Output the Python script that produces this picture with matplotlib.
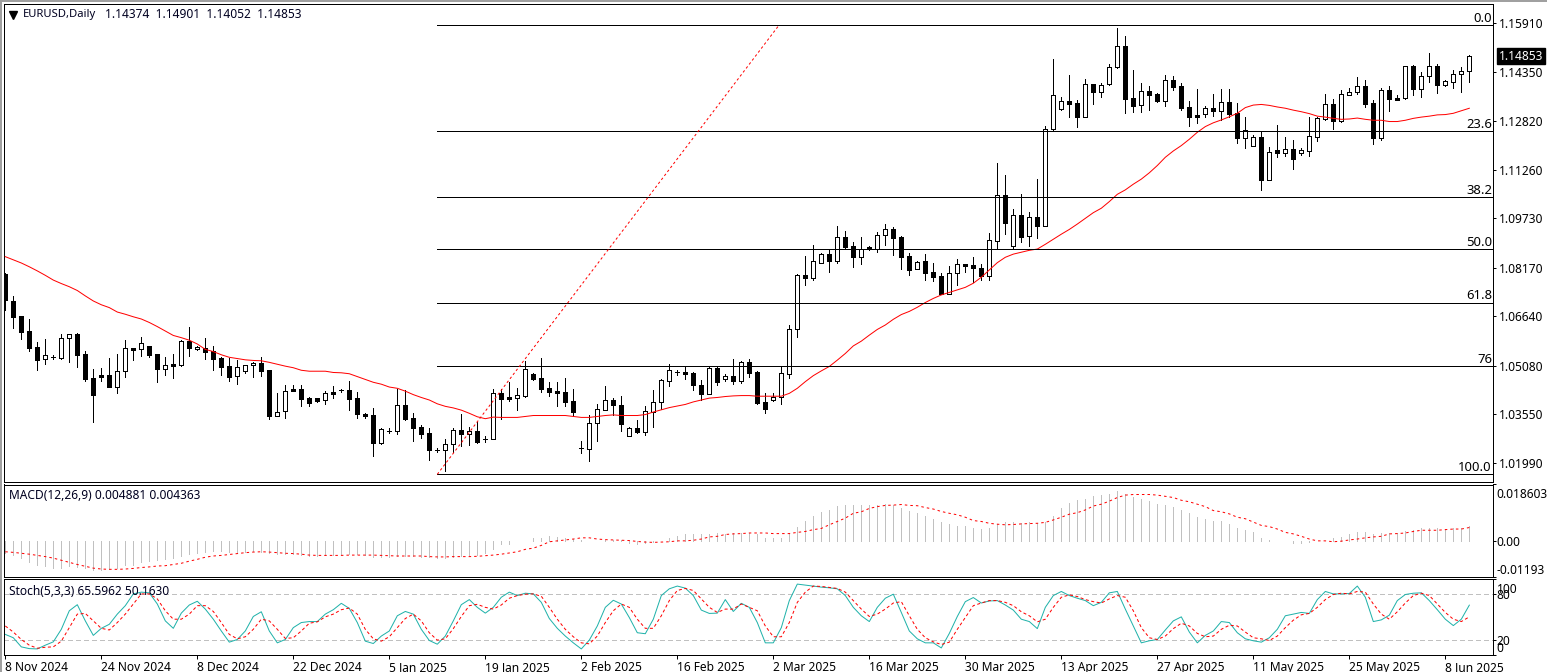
import matplotlib
matplotlib.use("Agg")
import matplotlib.pyplot as plt
from matplotlib.patches import Rectangle

plt.rcParams["font.family"] = ["Noto Sans", "DejaVu Sans"]
plt.rcParams["lines.scale_dashes"] = False

# daily candles
opens = [1.0797,1.0711,1.0664,1.0617,1.0565,1.0528,1.0534,1.0533,1.0594,1.0607,
    1.0544,1.0469,1.0477,1.0477,1.0441,1.0490,1.0562,1.0559,1.0569,1.0544,
    1.0498,1.0512,1.0511,1.0585,1.0559,1.0564,1.0555,1.0532,1.0505,1.0474,
    1.0490,1.0509,1.0516,1.0493,1.0350,1.0363,1.0433,1.0433,1.0404,1.0404,
    1.0398,1.0423,1.0430,1.0430,1.0404,1.0355,1.0351,1.0264,1.0302,1.0302,
    1.0383,1.0341,1.0313,1.0294,1.0240,1.0242,1.0261,1.0303,1.0293,1.0300,
    1.0277,1.0277,1.0420,1.0407,1.0406,1.0413,1.0481,1.0469,1.0436,1.0426,
    1.0424,1.0395,1.0246,1.0245,1.0325,1.0369,1.0399,1.0382,1.0286,1.0310,
    1.0299,1.0362,1.0392,1.0460,1.0487,1.0486,1.0484,1.0445,1.0419,1.0499,
    1.0466,1.0474,1.0460,1.0518,1.0486,1.0392,1.0400,1.0410,1.0482,1.0622,
    1.0793,1.0786,1.0833,1.0859,1.0839,1.0913,1.0885,1.0852,1.0881,1.0877,
    1.0919,1.0938,1.0913,1.0853,1.0814,1.0837,1.0803,1.0790,1.0735,1.0799,
    1.0828,1.0825,1.0817,1.0792,1.0903,1.1046,1.0887,1.0983,1.0916,1.0976,
    1.0950,1.1256,1.1320,1.1343,1.1337,1.1294,1.1397,1.1373,1.1398,1.1450,
    1.1517,1.1352,1.1330,1.1374,1.1366,1.1345,1.1409,1.1391,1.1324,1.1299,
    1.1304,1.1321,1.1313,1.1340,1.1305,1.1228,1.1203,1.1229,1.1095,1.1188,
    1.1181,1.1191,1.1181,1.1187,1.1231,1.1288,1.1333,1.1282,1.1364,1.1373,
    1.1390,1.1337,1.1228,1.1378,1.1352,1.1353,1.1453,1.1383,1.1422,1.1453,
    1.1396,1.1405,1.1428,1.14374]
highs = [1.0799,1.0728,1.0666,1.0654,1.0581,1.0591,1.0540,1.0608,1.0607,1.0610,
    1.0554,1.0497,1.0499,1.0532,1.0543,1.0589,1.0562,1.0597,1.0570,1.0545,
    1.0534,1.0543,1.0589,1.0630,1.0569,1.0594,1.0569,1.0536,1.0532,1.0525,
    1.0509,1.0520,1.0534,1.0493,1.0420,1.0445,1.0445,1.0445,1.0409,1.0404,
    1.0429,1.0442,1.0435,1.0458,1.0423,1.0358,1.0373,1.0310,1.0310,1.0435,
    1.0430,1.0357,1.0319,1.0310,1.0248,1.0275,1.0310,1.0354,1.0313,1.0328,
    1.0286,1.0433,1.0433,1.0456,1.0437,1.0521,1.0483,1.0532,1.0456,1.0457,
    1.0469,1.0433,1.0268,1.0351,1.0386,1.0443,1.0405,1.0412,1.0313,1.0336,
    1.0380,1.0431,1.0466,1.0513,1.0494,1.0504,1.0486,1.0462,1.0502,1.0502,
    1.0481,1.0529,1.0521,1.0529,1.0490,1.0421,1.0421,1.0505,1.0636,1.0796,
    1.0854,1.0889,1.0863,1.0873,1.0949,1.0933,1.0898,1.0914,1.0885,1.0930,
    1.0955,1.0945,1.0916,1.0864,1.0837,1.0860,1.0831,1.0799,1.0822,1.0845,
    1.0830,1.0850,1.0828,1.0926,1.1147,1.1110,1.1003,1.1050,1.0993,1.1097,
    1.1264,1.1477,1.1357,1.1426,1.1347,1.1412,1.1397,1.1400,1.1461,1.1575,
    1.1549,1.1442,1.1400,1.1391,1.1368,1.1426,1.1423,1.1400,1.1344,1.1382,
    1.1327,1.1366,1.1382,1.1381,1.1338,1.1292,1.1236,1.1247,1.1197,1.1268,
    1.1229,1.1221,1.1195,1.1292,1.1292,1.1366,1.1349,1.1379,1.1384,1.1419,
    1.1410,1.1347,1.1384,1.1391,1.1363,1.1454,1.1457,1.1437,1.1496,1.1461,
    1.1410,1.1442,1.1451,1.14901]
lows = [1.0683,1.0627,1.0592,1.0554,1.0495,1.0514,1.0529,1.0530,1.0520,1.0503,
    1.0460,1.0331,1.0460,1.0440,1.0422,1.0473,1.0527,1.0539,1.0534,1.0457,
    1.0478,1.0470,1.0508,1.0539,1.0558,1.0530,1.0495,1.0479,1.0460,1.0451,
    1.0485,1.0473,1.0476,1.0340,1.0350,1.0341,1.0427,1.0381,1.0381,1.0394,
    1.0387,1.0404,1.0424,1.0369,1.0343,1.0343,1.0223,1.0261,1.0294,1.0293,
    1.0336,1.0271,1.0280,1.0211,1.0234,1.0176,1.0234,1.0255,1.0258,1.0264,
    1.0265,1.0276,1.0340,1.0397,1.0367,1.0410,1.0462,1.0424,1.0413,1.0380,
    1.0380,1.0349,1.0233,1.0207,1.0271,1.0367,1.0351,1.0302,1.0286,1.0296,
    1.0290,1.0314,1.0371,1.0444,1.0479,1.0465,1.0431,1.0399,1.0417,1.0448,
    1.0460,1.0450,1.0454,1.0473,1.0387,1.0359,1.0397,1.0386,1.0470,1.0599,
    1.0762,1.0778,1.0832,1.0804,1.0833,1.0876,1.0820,1.0830,1.0873,1.0867,
    1.0889,1.0857,1.0813,1.0794,1.0813,1.0778,1.0775,1.0733,1.0735,1.0762,
    1.0804,1.0773,1.0779,1.0779,1.0875,1.0924,1.0879,1.0898,1.0886,1.0911,
    1.0950,1.1249,1.1315,1.1294,1.1262,1.1292,1.1334,1.1357,1.1396,1.1449,
    1.1306,1.1309,1.1309,1.1315,1.1340,1.1328,1.1379,1.1315,1.1266,1.1275,
    1.1294,1.1295,1.1284,1.1292,1.1212,1.1196,1.1203,1.1063,1.1094,1.1166,
    1.1171,1.1130,1.1173,1.1171,1.1218,1.1285,1.1255,1.1279,1.1362,1.1367,
    1.1324,1.1209,1.1221,1.1312,1.1347,1.1351,1.1362,1.1357,1.1404,1.1369,
    1.1391,1.1385,1.1372,1.14052]
closes = [1.0715,1.0662,1.0615,1.0564,1.0527,1.0540,1.0534,1.0594,1.0607,1.0542,
    1.0466,1.0416,1.0473,1.0441,1.0490,1.0562,1.0558,1.0578,1.0542,1.0498,
    1.0509,1.0508,1.0584,1.0564,1.0567,1.0552,1.0530,1.0504,1.0473,1.0502,
    1.0509,1.0515,1.0492,1.0350,1.0362,1.0426,1.0429,1.0403,1.0391,1.0397,
    1.0420,1.0419,1.0430,1.0403,1.0356,1.0350,1.0264,1.0306,1.0302,1.0382,
    1.0339,1.0312,1.0293,1.0242,1.0240,1.0261,1.0303,1.0293,1.0300,1.0267,
    1.0277,1.0420,1.0402,1.0403,1.0414,1.0496,1.0465,1.0434,1.0424,1.0422,
    1.0393,1.0361,1.0246,1.0325,1.0370,1.0398,1.0383,1.0324,1.0310,1.0299,
    1.0363,1.0392,1.0461,1.0493,1.0487,1.0481,1.0448,1.0419,1.0499,1.0457,
    1.0474,1.0459,1.0518,1.0485,1.0391,1.0372,1.0410,1.0483,1.0622,1.0793,
    1.0786,1.0837,1.0859,1.0839,1.0913,1.0884,1.0852,1.0877,1.0875,1.0919,
    1.0938,1.0912,1.0852,1.0811,1.0834,1.0801,1.0787,1.0735,1.0799,1.0828,
    1.0822,1.0817,1.0790,1.0904,1.1046,1.0959,1.0983,1.0915,1.0976,1.0950,
    1.1256,1.1362,1.1343,1.1335,1.1294,1.1397,1.1373,1.1393,1.1450,1.1517,
    1.1351,1.1329,1.1374,1.1364,1.1345,1.1409,1.1389,1.1322,1.1294,1.1294,
    1.1321,1.1313,1.1340,1.1304,1.1228,1.1251,1.1229,1.1094,1.1184,1.1181,
    1.1191,1.1162,1.1188,1.1232,1.1289,1.1333,1.1282,1.1365,1.1373,1.1390,
    1.1335,1.1228,1.1378,1.1349,1.1348,1.1453,1.1383,1.1422,1.1453,1.1396,
    1.1406,1.1428,1.1438,1.14853]
ma_line = [1.0852,1.0842,1.0832,1.0820,1.0807,1.0793,1.0778,1.0767,1.0757,1.0745,
    1.0728,1.0712,1.0700,1.0691,1.0677,1.0670,1.0662,1.0655,1.0644,1.0631,
    1.0617,1.0603,1.0596,1.0588,1.0576,1.0559,1.0552,1.0542,1.0534,1.0530,
    1.0526,1.0524,1.0523,1.0518,1.0512,1.0506,1.0501,1.0493,1.0490,1.0490,
    1.0490,1.0486,1.0485,1.0482,1.0473,1.0464,1.0455,1.0449,1.0440,1.0436,
    1.0427,1.0416,1.0407,1.0399,1.0387,1.0379,1.0374,1.0367,1.0357,1.0346,
    1.0340,1.0345,1.0344,1.0344,1.0344,1.0347,1.0350,1.0350,1.0350,1.0350,
    1.0350,1.0347,1.0344,1.0344,1.0347,1.0350,1.0352,1.0350,1.0350,1.0350,
    1.0353,1.0361,1.0368,1.0375,1.0380,1.0385,1.0393,1.0399,1.0405,1.0407,
    1.0410,1.0412,1.0413,1.0413,1.0411,1.0411,1.0411,1.0411,1.0420,1.0436,
    1.0457,1.0476,1.0491,1.0505,1.0525,1.0546,1.0570,1.0585,1.0604,1.0622,
    1.0636,1.0654,1.0669,1.0679,1.0692,1.0707,1.0720,1.0731,1.0739,1.0747,
    1.0755,1.0768,1.0787,1.0810,1.0833,1.0850,1.0860,1.0866,1.0872,1.0876,
    1.0891,1.0907,1.0923,1.0938,1.0955,1.0973,1.0991,1.1005,1.1026,1.1049,
    1.1063,1.1081,1.1097,1.1117,1.1140,1.1166,1.1186,1.1203,1.1223,1.1245,
    1.1263,1.1275,1.1284,1.1294,1.1305,1.1323,1.1331,1.1333,1.1330,1.1325,
    1.1321,1.1315,1.1310,1.1304,1.1296,1.1293,1.1289,1.1286,1.1287,1.1290,
    1.1286,1.1283,1.1283,1.1279,1.1279,1.1283,1.1289,1.1293,1.1296,1.1300,
    1.1301,1.1305,1.1313,1.1321]

macd_hist = [-39,-48,-57,-70,-80,-84,-90,-88,-84,-86,-91,-97,-95,-93,-88,-80,-80,-70,-66,-64,
    -61,-56,-51,-43,-39,-36,-35,-35,-38,-39,-36,-32,-37,-41,-44,-45,-45,-48,-50,-50,
    -48,-47,-44,-43,-45,-48,-52,-53,-54,-50,-50,-51,-52,-54,-56,-55,-52,-50,-48,-47,
    -39,-28,-12,-11,1,1,8,11,15,14,11,6,4,1,-1,2,3,3,-6,-11,
    -6,-4,0,8,15,21,21,22,24,26,23,26,25,26,23,10,10,11,24,47,
    66,82,95,102,115,118,119,120,119,119,121,117,108,99,92,83,73,61,54,50,
    48,43,40,43,56,61,62,58,61,58,62,82,108,125,134,138,147,151,155,164,
    156,145,138,131,121,117,112,102,92,80,73,66,64,56,43,37,28,11,4,0,
    -2,-6,-6,-4,-1,1,8,14,21,28,28,22,26,26,26,32,37,41,43,41,
    40,41,42,49]
macd_signal = [-36,-38,-41,-44,-48,-52,-57,-64,-71,-78,-84,-90,-93,-94,-94,-93,-91,-88,-86,-83,
    -82,-78,-74,-67,-61,-54,-50,-48,-45,-42,-39,-37,-36,-37,-39,-41,-42,-44,-47,-48,
    -48,-48,-48,-47,-47,-47,-47,-48,-49,-50,-50,-50,-50,-52,-53,-53,-52,-52,-52,-51,
    -49,-47,-44,-40,-36,-28,-24,-15,-3,0,3,6,10,10,6,4,3,2,1,-2,
    -4,-5,-4,-3,0,0,2,6,13,15,21,23,24,26,26,26,24,24,24,28,
    31,37,41,53,64,75,91,96,107,113,117,118,120,117,116,110,105,97,91,86,
    78,67,64,58,55,53,54,56,57,58,61,69,78,88,93,102,115,121,131,143,
    151,153,153,153,151,147,143,134,129,121,113,100,96,89,78,73,62,51,47,39,
    28,23,15,6,0,0,-3,-1,3,6,10,13,15,23,24,26,31,35,35,35,
    37,39,39,44]

stoch_main = [27.1,22.7,10.7,8.4,8.0,12.9,17.3,33.8,58.2,66.2,44.9,25.8,35.1,40.4,53.8,64.9,80.4,82.7,81.8,67.1,
    44.9,35.1,55.1,65.8,70.7,60.4,47.1,31.6,16.9,20.4,31.6,50.7,56.9,31.6,16.0,20.4,36.0,42.7,44.0,44.0,
    53.8,59.6,68.0,61.3,42.7,18.2,15.1,24.9,31.6,51.6,57.3,53.8,33.8,19.1,14.2,24.9,44.9,66.2,72.9,62.7,
    55.1,62.7,76.0,82.7,78.2,81.3,80.4,69.3,48.0,35.1,24.9,16.0,8.0,19.6,38.2,62.7,72.0,67.1,49.3,29.3,
    28.0,47.1,78.2,87.1,90.7,88.0,78.2,59.1,54.7,55.1,72.9,57.3,68.0,62.7,42.7,16.0,16.0,36.0,71.6,93.3,
    92.0,90.7,89.3,88.4,87.1,78.2,62.7,51.6,44.0,62.7,74.7,80.0,56.0,31.6,21.3,16.0,16.0,9.3,28.4,50.7,
    70.2,75.6,68.4,71.1,71.6,65.8,59.1,47.1,44.0,34.7,62.7,78.2,83.6,78.2,74.7,71.6,64.9,69.3,81.8,83.6,
    60.4,38.2,16.0,18.7,20.4,32.9,44.9,50.2,30.2,16.0,25.8,31.6,44.0,42.7,29.3,21.3,18.7,16.9,22.7,33.8,
    51.6,53.8,56.0,54.7,72.9,83.6,80.4,80.4,80.9,90.7,76.0,44.0,46.2,52.4,71.6,79.6,81.3,81.8,71.6,59.6,
    47.1,38.7,47.1,65.6]
stoch_signal = [38.2,30.2,20.4,12.9,8.9,10.2,10.7,18.2,36.0,53.8,54.7,44.9,35.1,32.9,42.7,53.8,67.1,80.4,80.4,73.8,
    58.2,47.1,47.1,53.8,64.9,64.9,57.3,42.7,27.1,21.3,24.0,33.8,47.1,44.9,33.8,21.8,22.7,31.6,41.8,43.6,
    50.2,53.8,59.6,61.8,53.8,33.8,21.3,18.2,24.0,36.0,48.0,53.8,44.9,29.3,19.6,21.3,34.7,50.7,64.9,66.7,
    62.7,60.4,65.8,74.7,78.2,80.0,80.4,77.3,62.7,47.1,33.8,24.0,16.0,14.7,24.9,42.7,58.2,67.1,62.7,47.1,
    35.1,35.1,51.6,71.6,84.9,87.6,84.9,73.8,62.7,56.0,60.4,60.4,67.1,62.7,58.2,38.2,24.0,24.0,42.7,69.3,
    82.7,90.7,90.2,88.9,87.6,82.7,71.6,60.4,50.7,53.8,60.4,68.4,70.2,51.6,33.8,22.7,17.3,13.8,16.9,33.8,
    49.3,64.9,68.4,71.6,71.6,69.3,64.9,56.9,51.6,43.6,47.1,62.7,76.0,79.1,76.9,72.9,70.2,68.4,73.8,78.2,
    76.0,58.2,36.0,22.7,20.4,24.9,34.7,41.8,38.2,28.4,24.0,24.9,33.8,39.1,38.2,30.2,22.7,21.3,19.1,24.9,
    36.0,45.8,52.9,54.7,62.7,72.9,79.6,81.3,80.4,83.6,82.7,67.1,53.8,47.1,56.9,68.4,78.2,81.3,78.2,67.1,
    56.0,47.1,44.0,50.2]

fib_levels = ["0.0", "23.6", "38.2", "50.0", "61.8", "76", "100.0"]
fib_prices = [1.15831, 1.12475, 1.10395, 1.08752, 1.07065, 1.05055, 1.01642]
fib_start, fib_end = 54, 96.7

price_ticks = [1.15910, 1.14350, 1.12820, 1.11260, 1.09730, 1.08170, 1.06640, 1.05080, 1.03550, 1.01990]
date_labels = ["8 Nov 2024", "24 Nov 2024", "8 Dec 2024", "22 Dec 2024", "5 Jan 2025", "19 Jan 2025",
    "2 Feb 2025", "16 Feb 2025", "2 Mar 2025", "16 Mar 2025", "30 Mar 2025", "13 Apr 2025",
    "27 Apr 2025", "11 May 2025", "25 May 2025", "8 Jun 2025"]

W, H = 1547, 672
FS = 8.6
LW = 0.72
bars = list(range(len(closes)))
date_ticks = bars[::12]

def make_pane(top, bottom):
    ax = fig.add_axes([4 / W, 1 - bottom / H, 1489 / W, (bottom - top) / H])
    ax.set_xlim(-0.1625, 185.96)
    ax.yaxis.tick_right()
    ax.set_xticks([])
    for s in ax.spines.values():
        s.set_linewidth(LW)
    ax.tick_params(axis="y", length=2.2, width=LW, labelsize=FS, pad=0.5)
    return ax

fig = plt.figure(figsize=(W / 100, H / 100), dpi=100)
fig.add_artist(Rectangle((0, 1 - 2 / H), 1, 2 / H, transform=fig.transFigure, color="#a0a0a0", lw=0))
fig.add_artist(Rectangle((0, 0), 2 / W, 1, transform=fig.transFigure, color="#a0a0a0", lw=0))

# price pane
ax1 = make_pane(4, 482)
ax1.set_ylim(1.01399, 1.16504)
ax1.vlines(bars, lows, highs, color="k", lw=LW, antialiased=False, zorder=2)
body_bottom = [min(o, c) for o, c in zip(opens, closes)]
body_height = [abs(c - o) for o, c in zip(opens, closes)]
body_color = ["white" if c > o else "black" for o, c in zip(opens, closes)]
ax1.bar(bars, body_height, bottom=body_bottom, width=0.5, color=body_color, edgecolor="k",
        linewidth=LW, antialiased=False, zorder=3)
ax1.plot(bars, ma_line, color="red", lw=LW, zorder=4)
ax1.hlines(fib_prices, fib_start, 185.96, color="k", lw=LW, antialiased=False, zorder=5)
ax1.plot([fib_start, fib_end], [fib_prices[-1], fib_prices[0]], color="red", lw=LW,
         linestyle=(0, (1.8, 1.8)), zorder=5)
for name, price in zip(fib_levels, fib_prices):
    ax1.annotate(name, (1, price), xycoords=ax1.get_yaxis_transform(), xytext=(-0.8, 0.4),
                 textcoords="offset points", ha="right", va="bottom", fontsize=9.4, zorder=6)
ax1.set_yticks(price_ticks, [f"{t:.5f}" for t in price_ticks])
ax1.tick_params(axis="y", pad=2.2)
ax1.text(1.004, closes[-1], f"{closes[-1]:.5f}", transform=ax1.get_yaxis_transform(), color="white",
         fontsize=FS, va="center", ha="left", clip_on=False, zorder=10,
         bbox=dict(facecolor="black", edgecolor="black", pad=1.2))
ax1.plot([8.5 / 1489], [0.977], marker="v", color="k", ms=5.5, transform=ax1.transAxes, zorder=6)
ax1.text(19 / 1489, 0.9785, "EURUSD,Daily", transform=ax1.transAxes, fontsize=8.1,
         va="center", ha="left", color="#000020", zorder=6)
ax1.text(101 / 1489, 0.9785, f"{opens[-1]:.5f}  {highs[-1]:.5f}  {lows[-1]:.5f}  {closes[-1]:.5f}",
         transform=ax1.transAxes, fontsize=FS, va="center", ha="left", color="#000020", zorder=6)

# MACD pane
ax2 = make_pane(484.5, 577)
ax2.set_ylim(-0.01193, 0.018603)
ax2.vlines(bars, 0, [v / 10000 for v in macd_hist], color="#c0c0c0", lw=LW, antialiased=False)
ax2.plot(bars, [v / 10000 for v in macd_signal], color="red", lw=LW, linestyle=(0, (1.8, 2.2)))
ax2.set_yticks([0.018603, 0, -0.01193], ["", "0.00", ""])
ax2.annotate("0.018603", (1, 0.018603), xycoords=ax2.get_yaxis_transform(), xytext=(2.5, -2.2),
             textcoords="offset points", va="top", ha="left", fontsize=FS, annotation_clip=False)
ax2.annotate("-0.01193", (1, -0.01193), xycoords=ax2.get_yaxis_transform(), xytext=(2.5, 0),
             textcoords="offset points", va="bottom", ha="left", fontsize=FS, annotation_clip=False)
ax2.text(5 / 1489, 0.885, "MACD(12,26,9) 0.004881 0.004363", transform=ax2.transAxes,
         fontsize=FS, va="center", ha="left", color="#000020")

# stochastic pane
ax3 = make_pane(579, 655)
ax3.set_ylim(0, 100)
ax3.axhline(80, color="#c0c0c0", lw=LW, linestyle=(0, (2.9, 2.2)), antialiased=False)
ax3.axhline(20, color="#c0c0c0", lw=LW, linestyle=(0, (2.9, 2.2)), antialiased=False)
ax3.plot(bars, stoch_main, color="#20b2aa", lw=LW)
ax3.plot(bars, stoch_signal, color="red", lw=LW, linestyle=(0, (2.2, 1.8)))
ax3.set_yticks([100, 80, 20, 0], ["", "80", "20", "0"])
labs = ax3.get_yticklabels()
labs[3].set_va("bottom")
ax3.annotate("100", (1, 100), xycoords=ax3.get_yaxis_transform(), xytext=(2.5, -3),
             textcoords="offset points", va="top", ha="left", fontsize=FS, annotation_clip=False)
ax3.text(5 / 1489, 0.84, "Stoch(5,3,3) 65.5962 50.1630", transform=ax3.transAxes,
         fontsize=FS, va="center", ha="left", color="#000020")
ax3.set_xticks(date_ticks, date_labels)
ax3.tick_params(axis="x", length=2.9, width=LW, labelsize=FS, pad=1.2)
for lab in ax3.get_xticklabels():
    lab.set_ha("left")

fig.savefig("out.png", dpi=100)
